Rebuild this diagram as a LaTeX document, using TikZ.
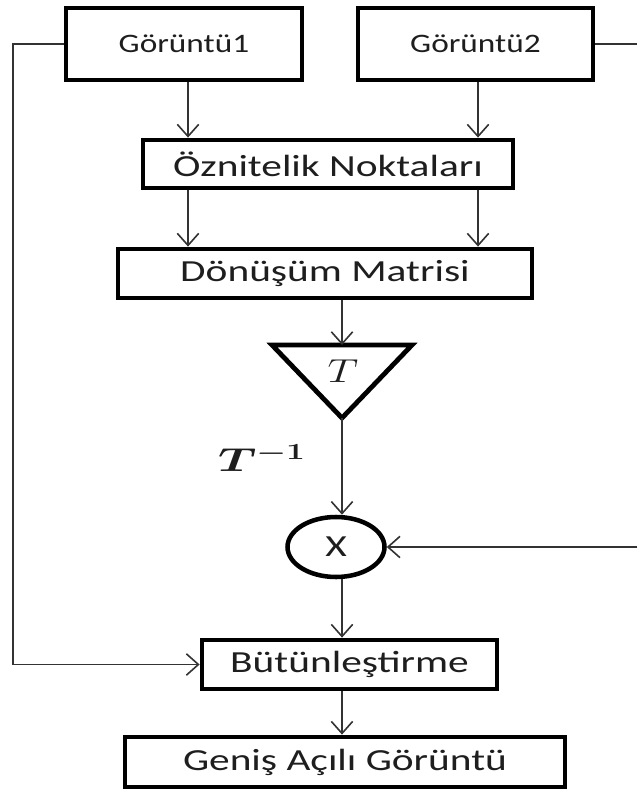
\documentclass[tikz,border=0pt]{standalone}
\usepackage{fontspec}
\setmainfont{Carlito}
\usetikzlibrary{arrows.meta,shapes.geometric,calc}
\definecolor{txt}{HTML}{1E1E1E}
\definecolor{ln}{HTML}{333333}
\newcommand{\stretchtxt}[2]{\scalebox{#1}[1]{#2}}
\begin{document}
\begin{tikzpicture}[x=0.75pt,y=-0.75pt,
  bx/.style={draw=black,line width=3.6pt,rectangle,inner sep=0pt,text=txt,fill=white},
  conn/.style={draw=ln,line width=1.4pt},
  arr/.style={conn,-{Straight Barb[length=9pt,width=16pt,line width=1.2pt]}},
  bigtxt/.style={font=\fontsize{23}{26}\selectfont},
  smalltxt/.style={font=\fontsize{20}{24}\selectfont}]
\useasboundingbox (0,0) rectangle (637,791);
% column coordinates
\coordinate (colL) at (188,0);
\coordinate (colR) at (478,0);
\coordinate (colM) at (342,0);
% boxes
\node[bx,smalltxt,minimum width=236*0.75pt,minimum height=72*0.75pt] (G1) at (184,44) {\stretchtxt{1.25}{Görüntü1}};
\node[bx,smalltxt,minimum width=235*0.75pt,minimum height=72*0.75pt] (G2) at (475.5,44) {\stretchtxt{1.25}{Görüntü2}};
\node[bx,bigtxt,minimum width=370*0.75pt,minimum height=48*0.75pt] (Oz) at (328,164) {\stretchtxt{1.35}{Öznitelik Noktaları}};
\node[bx,bigtxt,minimum width=414*0.75pt,minimum height=49*0.75pt] (Dn) at (325,273.5) {\stretchtxt{1.35}{Dönüşüm Matrisi}};
% triangle
\coordinate (TriL) at (272,345);
\coordinate (TriR) at (412,345);
\coordinate (TriTop) at (342,345);
\coordinate (TriApex) at (342,418);
\draw[line width=3.6pt,line join=miter] (TriL) -- (TriR) -- (TriApex) -- cycle;
\node[text=txt,font=\fontsize{28}{30}\selectfont] (T) at (343,371) {\stretchtxt{1.3}{$T$}};
\node[text=txt,font=\fontsize{26}{30}\selectfont] (Tinv) at (262,458) {\stretchtxt{1.45}{\boldmath$T^{-1}$}};
% ellipse
\node[draw=black,line width=3.4pt,ellipse,minimum width=97*0.75pt,minimum height=60*0.75pt,inner sep=0pt,text=txt,font=\fontsize{23}{26}\selectfont] (X) at (336,547) {\stretchtxt{1.35}{X}};
\node[bx,bigtxt,minimum width=295*0.75pt,minimum height=49*0.75pt] (B) at (349.5,664.5) {\stretchtxt{1.35}{Bütünleştirme}};
\node[bx,bigtxt,minimum width=440*0.75pt,minimum height=50*0.75pt] (Gn) at (345,762) {\stretchtxt{1.35}{Geniş Açılı Görüntü}};
% free ends
\coordinate (leftX) at (13,0);
\coordinate (rightX) at (637,0);
\coordinate (rEnd2) at (637,547);
% connectors
\draw[arr] (G1.south -| colL) -- (Oz.north -| colL);
\draw[arr] (G2.south -| colR) -- (Oz.north -| colR);
\draw[arr] (Oz.south -| colL) -- (Dn.north -| colL);
\draw[arr] (Oz.south -| colR) -- (Dn.north -| colR);
\draw[arr] (Dn.south -| colM) -- (TriTop);
\draw[arr] (TriApex) -- (X.north -| colM);
\draw[arr] (X.south -| colM) -- (B.north -| colM);
\draw[arr] (B.south -| colM) -- (Gn.north -| colM);
\draw[arr] (G1.west) -- (G1.west -| leftX) |- (B.west);
\draw[conn] (G2.east) -- (G2.east -| rightX);
\draw[arr] (rEnd2) -- (X.east);
\end{tikzpicture}
\end{document}
